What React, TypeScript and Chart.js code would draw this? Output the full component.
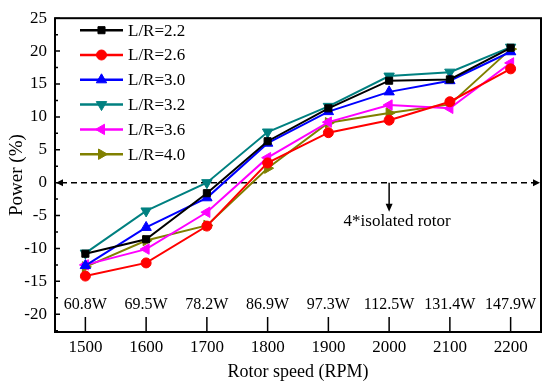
import React, { useEffect, useRef } from 'react';
import { Chart, registerables } from 'chart.js';
import { drawPoint } from 'chart.js/helpers';

Chart.register(...registerables);

const rpm = [1500, 1600, 1700, 1800, 1900, 2000, 2100, 2200];
const powerLabels = ['60.8W', '69.5W', '78.2W', '86.9W', '97.3W', '112.5W', '131.4W', '147.9W'];
const seriesNames = ['L/R=2.2', 'L/R=2.6', 'L/R=3.0', 'L/R=3.2', 'L/R=3.6', 'L/R=4.0'];
const lr22 = [-10.8, -8.6, -1.6, 6.3, 11.3, 15.5, 15.7, 20.5];
const lr26 = [-14.2, -12.2, -6.6, 3.0, 7.6, 9.5, 12.3, 17.3];
const lr30 = [-12.6, -6.8, -2.3, 6.0, 10.8, 13.8, 15.5, 19.9];
const lr32 = [-10.7, -4.3, 0.0, 7.7, 11.6, 16.2, 16.8, 20.6];
const lr36 = [-12.5, -10.1, -4.5, 3.8, 9.2, 11.8, 11.3, 18.2];
const lr40 = [-12.8, -8.8, -6.5, 2.2, 9.1, 10.6, 11.9, 20.3];
const yTicks = [-20, -15, -10, -5, 0, 5, 10, 15, 20, 25];
const yMinorTicks = [-22.5, -17.5, -12.5, -7.5, -2.5, 2.5, 7.5, 12.5, 17.5, 22.5];
const referenceLevel = 0;
const referenceX = 2000;
const annotationText = '4*isolated rotor';

const colors = ['#000000', '#ff0000', '#0000ff', '#008080', '#ff00ff', '#808000'];
const styles = ['rect', 'circle', 'triangle', 'triangle', 'triangle', 'triangle'];
const rotations = [0, 0, 0, 180, 270, 90];
const allSeries = [lr22, lr26, lr30, lr32, lr36, lr40];

const FONT = "'Liberation Serif', 'Times New Roman', serif";

const decorPlugin = {
  id: 'decor',
  beforeDatasetsDraw(chart: any) {
    const { ctx, chartArea, scales } = chart;
    const xS = scales.x;
    const yS = scales.y;
    ctx.save();
    const y0 = yS.getPixelForValue(referenceLevel);
    ctx.strokeStyle = '#000';
    ctx.lineWidth = 1.5;
    ctx.setLineDash([6, 4]);
    ctx.beginPath();
    ctx.moveTo(chartArea.left + 6, y0);
    ctx.lineTo(chartArea.right - 6, y0);
    ctx.stroke();
    ctx.setLineDash([]);
    ctx.fillStyle = '#000';
    ctx.beginPath();
    ctx.moveTo(chartArea.left + 1, y0);
    ctx.lineTo(chartArea.left + 8, y0 - 3.5);
    ctx.lineTo(chartArea.left + 8, y0 + 3.5);
    ctx.closePath();
    ctx.fill();
    ctx.beginPath();
    ctx.moveTo(chartArea.right - 1, y0);
    ctx.lineTo(chartArea.right - 8, y0 - 3.5);
    ctx.lineTo(chartArea.right - 8, y0 + 3.5);
    ctx.closePath();
    ctx.fill();
    const xa = xS.getPixelForValue(referenceX);
    ctx.lineWidth = 1.5;
    ctx.beginPath();
    ctx.moveTo(xa, y0);
    ctx.lineTo(xa, y0 + 22);
    ctx.stroke();
    ctx.beginPath();
    ctx.moveTo(xa, y0 + 29);
    ctx.lineTo(xa - 3.5, y0 + 21);
    ctx.lineTo(xa + 3.5, y0 + 21);
    ctx.closePath();
    ctx.fill();
    ctx.font = `17px ${FONT}`;
    ctx.textAlign = 'center';
    ctx.textBaseline = 'middle';
    ctx.fillText(annotationText, xa + 8, y0 + 39);
    ctx.font = `16px ${FONT}`;
    rpm.forEach((v, i) => {
      ctx.fillText(powerLabels[i], xS.getPixelForValue(v), chartArea.bottom - 27);
    });
    ctx.restore();
  },
  afterDraw(chart: any) {
    const { ctx, chartArea, scales } = chart;
    const xS = scales.x;
    const yS = scales.y;
    ctx.save();
    ctx.strokeStyle = '#000';
    ctx.lineWidth = 2;
    ctx.strokeRect(chartArea.left, chartArea.top, chartArea.right - chartArea.left, chartArea.bottom - chartArea.top);
    ctx.lineWidth = 1.5;
    ctx.beginPath();
    yTicks.forEach((v) => {
      const y = yS.getPixelForValue(v);
      ctx.moveTo(chartArea.left, y);
      ctx.lineTo(chartArea.left + 5, y);
    });
    yMinorTicks.forEach((v) => {
      const y = yS.getPixelForValue(v);
      ctx.moveTo(chartArea.left, y);
      ctx.lineTo(chartArea.left + 3, y);
    });
    rpm.forEach((v) => {
      const x = xS.getPixelForValue(v);
      ctx.moveTo(x, chartArea.bottom);
      ctx.lineTo(x, chartArea.bottom - 15);
    });
    ctx.stroke();
    const lx0 = chartArea.left + 25;
    const lx1 = chartArea.left + 68;
    chart.data.datasets.forEach((ds: any, i: number) => {
      const y = chartArea.top + 12 + i * 24.8;
      ctx.strokeStyle = ds.borderColor;
      ctx.fillStyle = ds.backgroundColor;
      ctx.lineWidth = 2.5;
      ctx.beginPath();
      ctx.moveTo(lx0, y);
      ctx.lineTo(lx1, y);
      ctx.stroke();
      ctx.lineWidth = 1;
      drawPoint(ctx, { pointStyle: ds.pointStyle, rotation: ds.pointRotation, radius: ds.pointRadius, borderWidth: 1 }, (lx0 + lx1) / 2, y);
      ctx.fillStyle = '#000';
      ctx.font = `17px ${FONT}`;
      ctx.textAlign = 'left';
      ctx.textBaseline = 'middle';
      ctx.fillText(ds.label, lx1 + 5, y + 1);
    });
    ctx.restore();
  },
};

export default function App() {
  const ref = useRef<HTMLCanvasElement>(null);
  useEffect(() => {
    if (!ref.current) return;
    Chart.defaults.color = '#000';
    const chart = new Chart(ref.current, {
      type: 'line',
      data: {
        datasets: allSeries.map((vals, i) => ({
          label: seriesNames[i],
          data: vals.map((v, j) => ({ x: rpm[j], y: v })),
          borderColor: colors[i],
          backgroundColor: colors[i],
          borderWidth: 2,
          pointStyle: styles[i] as any,
          pointRotation: rotations[i],
          pointRadius: styles[i] === 'triangle' ? 6 : 5,
          pointBorderWidth: 1,
          tension: 0,
        })),
      },
      options: {
        animation: false,
        responsive: false,
        layout: { padding: { top: 18, right: 9, left: 0, bottom: 0 } },
        plugins: { legend: { display: false }, tooltip: { enabled: false } },
        scales: {
          x: {
            type: 'linear',
            min: 1450,
            max: 2250,
            afterBuildTicks: (s: any) => {
              s.ticks = rpm.map((v) => ({ value: v }));
            },
            afterFit: (s: any) => {
              s.height = 55;
            },
            grid: { display: false, drawTicks: false },
            border: { display: false },
            ticks: {
              font: { family: FONT, size: 17 },
              color: '#000',
              padding: 5,
              maxRotation: 0,
              autoSkip: false,
              callback: (v: any) => String(v),
            },
            title: { display: true, text: 'Rotor speed (RPM)', font: { family: FONT, size: 18 }, color: '#000', padding: { top: 0, bottom: 4 } },
          },
          y: {
            type: 'linear',
            min: -22.7,
            max: 25,
            afterBuildTicks: (s: any) => {
              s.ticks = yTicks.map((v) => ({ value: v }));
            },
            afterFit: (s: any) => {
              s.width = 55;
            },
            grid: { display: false, drawTicks: false },
            border: { display: false },
            ticks: { font: { family: FONT, size: 17 }, color: '#000', padding: 8, callback: (v: any) => String(v) },
            title: { display: true, text: 'Power (%)', font: { family: FONT, size: 19 }, color: '#000', padding: { top: 6, bottom: 0 } },
          },
        },
      },
      plugins: [decorPlugin],
    });
    return () => chart.destroy();
  }, []);
  return (
    <div style={{ position: 'absolute', left: 0, top: 0, width: 550, height: 387, background: '#fff' }}>
      <canvas ref={ref} width={550} height={387} />
    </div>
  );
}
